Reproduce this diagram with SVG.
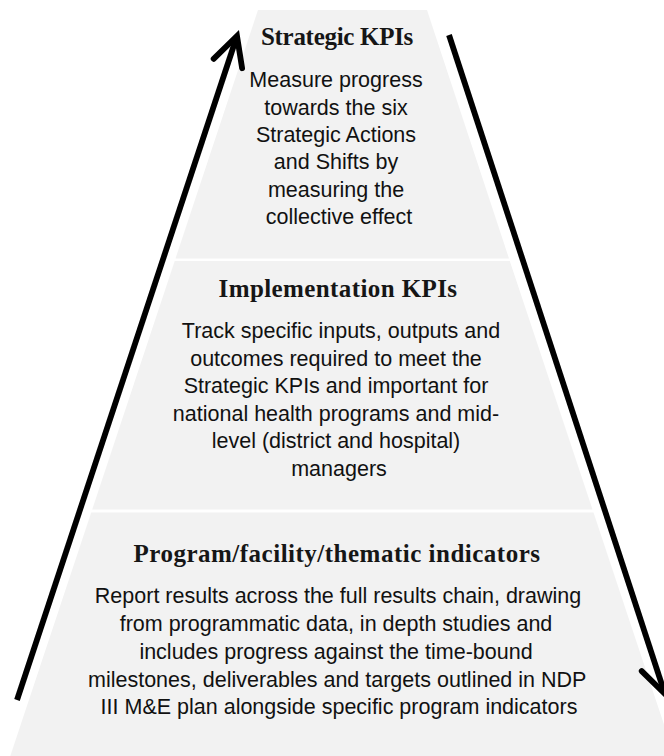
<svg xmlns="http://www.w3.org/2000/svg" width="664" height="756" viewBox="0 0 664 756">
  <style>
    .layer { fill: #f2f2f2; }
    .title { font-family: "Liberation Serif", "Times New Roman", serif; font-weight: bold; font-size: 25px; fill: #161616; text-anchor: middle; }
    .body { font-family: "Liberation Sans", Arial, sans-serif; font-size: 21.5px; fill: #111; text-anchor: middle; }
    .arrow { fill: none; stroke: #000; stroke-width: 5.8; }
  </style>
  <defs>
    <marker id="chevron" markerUnits="userSpaceOnUse" orient="auto" viewBox="-40 -24 48 48" markerWidth="48" markerHeight="48" refX="0" refY="0">
      <path d="M-29,-15 L0,0 L-29,15" fill="none" stroke="#000" stroke-width="5.8" stroke-linejoin="miter" stroke-linecap="round"/>
    </marker>
  </defs>

  <rect width="664" height="756" fill="#ffffff"/>

  <!-- top tier -->
  <g id="strategic-kpis">
    <polygon class="layer" points="258,10 427,10 509,258.5 175.5,258.5"/>
    <text class="title" x="337" y="45" letter-spacing="-0.3">Strategic KPIs</text>
    <text class="body">
      <tspan x="339" y="87">Measure progress</tspan>
      <tspan x="339" y="114.5">towards the six</tspan>
      <tspan x="339" y="142">Strategic Actions</tspan>
      <tspan x="339" y="169">and Shifts by</tspan>
      <tspan x="339" y="196.5">measuring the</tspan>
      <tspan x="339" y="224">collective effect</tspan>
    </text>
  </g>

  <!-- middle tier -->
  <g id="implementation-kpis">
    <polygon class="layer" points="174.7,261 509.8,261 592.5,509.5 92.2,509.5"/>
    <text class="title" x="338" y="297" letter-spacing="0.4">Implementation KPIs</text>
    <text class="body">
      <tspan x="344" y="338">Track specific inputs, outputs and</tspan>
      <tspan x="339" y="366">outcomes required to meet the</tspan>
      <tspan x="339" y="393">Strategic KPIs and important for</tspan>
      <tspan x="339" y="421">national health programs and mid-</tspan>
      <tspan x="339" y="448">level (district and hospital)</tspan>
      <tspan x="339" y="476">managers</tspan>
    </text>
  </g>

  <!-- bottom tier -->
  <g id="program-indicators">
    <polygon class="layer" points="91.2,512.5 593.5,512.5 674.5,756 10.3,756"/>
    <text class="title" x="337" y="561.5" letter-spacing="0.5">Program/facility/thematic indicators</text>
    <text class="body">
      <tspan x="341" y="603">Report results across the full results chain, drawing</tspan>
      <tspan x="339" y="631">from programmatic data, in depth studies and</tspan>
      <tspan x="339" y="659">includes progress against the time-bound</tspan>
      <tspan x="340" y="686.5">milestones, deliverables and targets outlined in NDP</tspan>
      <tspan x="339" y="714">III M&amp;E plan alongside specific program indicators</tspan>
    </text>
  </g>

  <!-- flow arrows: upward on the left, downward on the right -->
  <g id="connectors">
    <line class="arrow" x1="17" y1="700" x2="237" y2="36" marker-end="url(#chevron)"/>
    <line class="arrow" x1="449" y1="35" x2="665" y2="694" marker-end="url(#chevron)"/>
  </g>
</svg>
